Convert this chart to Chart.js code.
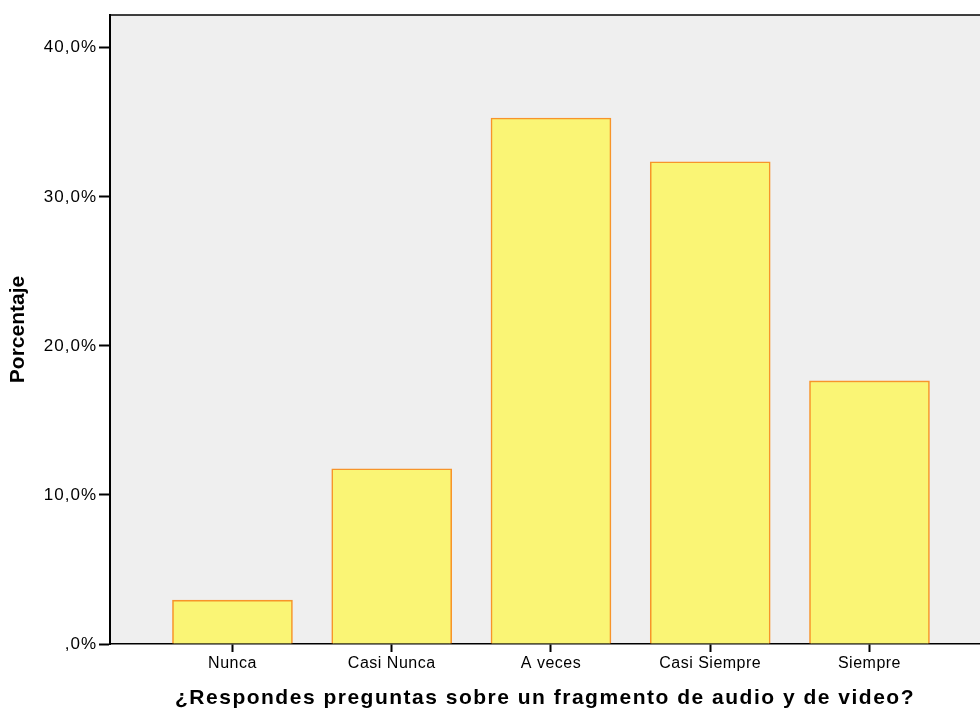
<!DOCTYPE html>
<html>
<head>
<meta charset="utf-8">
<script src="https://cdn.jsdelivr.net/npm/chart.js@4"></script>
<style>
html,body{margin:0;padding:0;background:#fff;}
#wrap{width:980px;height:709px;position:relative;}
</style>
</head>
<body>
<div id="wrap"><canvas id="c" width="980" height="709"></canvas></div>
<script>
const categories = ['Nunca', 'Casi Nunca', 'A veces', 'Casi Siempre', 'Siempre'];
const percentValues = [2.94, 11.76, 35.29, 32.35, 17.65];
const yTickValues = [0, 10, 20, 30, 40];
const xTitle = '¿Respondes preguntas sobre un fragmento de audio y de video?';
const yTitle = 'Porcentaje';

const points = categories.map((c, i) => ({x: i + 1, y: percentValues[i]}));

function spaced(scale, method, spacing) {
  const key = '_sp_' + method;
  if (scale[key]) return;
  const orig = scale[method].bind(scale);
  scale[method] = function (...args) {
    const ctx = this.ctx;
    const prev = ctx.letterSpacing;
    ctx.letterSpacing = spacing;
    orig(...args);
    ctx.letterSpacing = prev || '0px';
  };
  scale[key] = true;
}

const plotBg = {
  id: 'plotBg',
  beforeDraw(chart) {
    const {ctx, chartArea: a} = chart;
    ctx.save();
    ctx.fillStyle = '#efefef';
    ctx.fillRect(a.left, a.top, a.right - a.left, a.bottom - a.top);
    ctx.restore();
  },
  afterDraw(chart) {
    const {ctx, chartArea: a} = chart;
    ctx.save();
    ctx.strokeStyle = '#000';
    ctx.lineWidth = 1.5;
    ctx.beginPath();
    ctx.moveTo(a.left, a.top);
    ctx.lineTo(a.right, a.top);
    ctx.stroke();
    ctx.restore();
  }
};

new Chart(document.getElementById('c'), {
  type: 'bar',
  data: {
    datasets: [{
      data: points,
      backgroundColor: '#faf575',
      borderColor: '#f7942a',
      borderWidth: 1.6,
      barThickness: 120
    }]
  },
  options: {
    responsive: false,
    animation: false,
    layout: {padding: {left: 0, right: 0, top: 15, bottom: 0}},
    plugins: {legend: {display: false}, tooltip: {enabled: false}},
    scales: {
      x: {
        type: 'linear',
        offset: false,
        min: 0.231,
        max: 5.694,
        afterBuildTicks(scale) {
          scale.ticks = categories.map((c, i) => ({value: i + 1}));
        },
        afterFit(scale) { scale.height = 65; },
        afterUpdate(scale) {
          spaced(scale, 'drawTitle', '1.5px');
          spaced(scale, 'drawLabels', '0.5px');
        },
        ticks: {
          autoSkip: false,
          maxRotation: 0,
          padding: 2,
          color: '#000',
          font: {family: 'Liberation Sans, Arial, sans-serif', size: 16},
          callback: (v) => categories[Math.round(v) - 1] || ''
        },
        grid: {offset: false, drawOnChartArea: false, drawTicks: true, tickLength: 8, tickColor: '#000', tickWidth: 2},
        border: {display: true, color: '#000', width: 1.5},
        title: {
          display: true,
          text: xTitle,
          color: '#000',
          font: {family: 'Liberation Sans, Arial, sans-serif', size: 21, weight: 'bold', lineHeight: 1},
          padding: {top: 0, bottom: 0}
        }
      },
      y: {
        min: 0,
        max: 42.2,
        afterBuildTicks(scale) {
          scale.ticks = yTickValues.map(v => ({value: v}));
        },
        afterFit(scale) { scale.width = 110; },
        afterUpdate(scale) {
          spaced(scale, 'drawLabels', '1px');
        },
        ticks: {
          padding: 2,
          color: '#000',
          font: {family: 'Liberation Sans, Arial, sans-serif', size: 17},
          callback: (v) => v === 0 ? ',0%' : v.toFixed(1).replace('.', ',') + '%'
        },
        grid: {drawOnChartArea: false, drawTicks: true, tickLength: 11, tickColor: '#000', tickWidth: 2},
        border: {display: true, color: '#000', width: 2},
        title: {
          display: true,
          text: yTitle,
          color: '#000',
          font: {family: 'Liberation Sans, Arial, sans-serif', size: 21, weight: 'bold'},
          padding: {top: 6, bottom: 0}
        }
      }
    }
  },
  plugins: [plotBg]
});
</script>
</body>
</html>
